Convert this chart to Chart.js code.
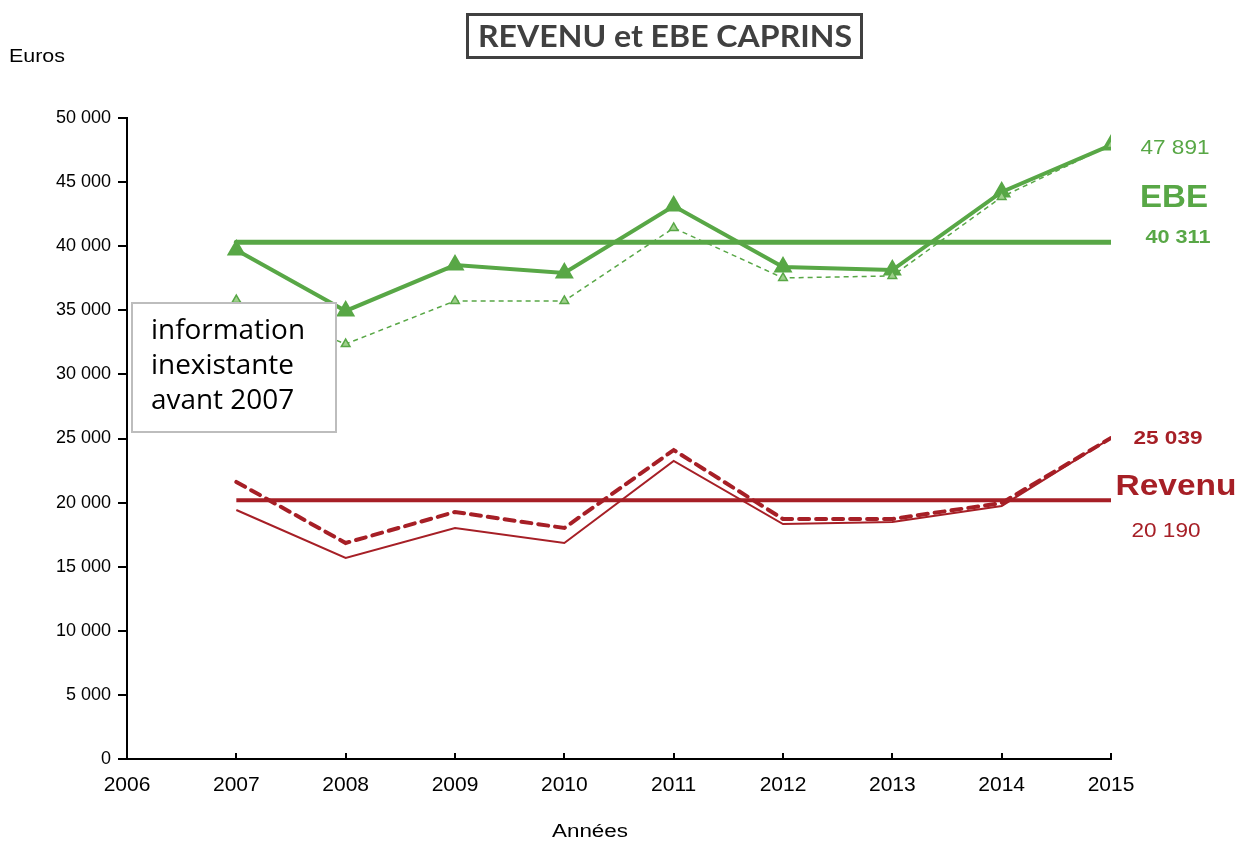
<!DOCTYPE html>
<html><head><meta charset="utf-8">
<script src="https://cdn.jsdelivr.net/npm/chart.js@4.4.1/dist/chart.umd.min.js"></script>
<style>html,body{margin:0;padding:0;background:#fff;}#wrap{width:1241px;height:844px;position:relative;}</style>
</head><body><div id="wrap"><canvas id="c" width="1241" height="844"></canvas></div>
<script>
const annees = [2007, 2008, 2009, 2010, 2011, 2012, 2013, 2014, 2015];
const ebe = [39700, 34950, 38530, 37910, 43140, 38380, 38140, 44230, 47891];
const ebeConstant = [35800, 32370, 35730, 35730, 41420, 37520, 37680, 43840, 47891];
const revenu = [19420, 15680, 18020, 16850, 23250, 18330, 18490, 19740, 25039];
const revenuConstant = [21610, 16850, 19270, 18020, 24100, 18720, 18720, 19970, 25039];
const ebeMoyenne = 40311;
const revenuMoyenne = 20190;
const xTicks = [2006, 2007, 2008, 2009, 2010, 2011, 2012, 2013, 2014, 2015];
const titre = "REVENU et EBE CAPRINS";
const noteLignes = ["information", "inexistante", "avant 2007"];

const GREEN = '#58a746';
const RED = '#a61f26';
const pts = (vals) => annees.map((a, i) => ({x: a, y: vals[i]}));
const flat = (v) => [{x: annees[0], y: v}, {x: annees[annees.length - 1], y: v}];
const fmt = (v) => String(Math.round(v)).replace(/\B(?=(\d{3})+(?!\d))/g, ' ');

// draw text horizontally scaled to a target width
function fitText(ctx, txt, x, y, font, color, width, align) {
  ctx.save();
  ctx.font = font; ctx.fillStyle = color; ctx.textBaseline = 'middle'; ctx.textAlign = 'left';
  const w = ctx.measureText(txt).width;
  const k = width / w;
  const left = align === 'left' ? x : x - width / 2;
  ctx.translate(left, y); ctx.scale(k, 1);
  ctx.fillText(txt, 0, 0);
  ctx.restore();
}

const overlay = {
  id: 'overlay',
  afterDraw(chart) {
    const ctx = chart.ctx, xs = chart.scales.x, ys = chart.scales.y, ca = chart.chartArea;
    ctx.save();
    // x tick marks (inside)
    ctx.strokeStyle = '#000'; ctx.lineWidth = 2;
    xTicks.forEach(t => {
      const px = Math.round(xs.getPixelForValue(t));
      ctx.beginPath(); ctx.moveTo(px, ca.bottom); ctx.lineTo(px, ca.bottom - 6); ctx.stroke();
    });
    // title box
    fitText(ctx, titre, 665, 37, 'bold 31px Lato', '#404040', 374);
    ctx.strokeStyle = '#404040'; ctx.lineWidth = 3;
    ctx.strokeRect(467.5, 14.5, 394, 43);
    // axis titles
    fitText(ctx, 'Euros', 9, 57, '18px "Liberation Sans"', '#000', 56, 'left');
    fitText(ctx, 'Années', 590, 832, '18px "Liberation Sans"', '#000', 76);
    // note box
    ctx.fillStyle = '#fff'; ctx.fillRect(132, 303, 204, 129);
    ctx.strokeStyle = '#bdbdbd'; ctx.lineWidth = 2; ctx.strokeRect(132, 303, 204, 129);
    const nf = '27px "Open Sans"';
    ctx.font = nf;
    const k = 154 / ctx.measureText(noteLignes[0]).width;
    noteLignes.forEach((l, i) => {
      ctx.font = nf;
      const w = ctx.measureText(l).width * k;
      fitText(ctx, l, 151, 331 + i * 35, nf, '#000', w, 'left');
    });
    // right labels
    const last = annees.length - 1;
    fitText(ctx, fmt(ebe[last]), 1175, ys.getPixelForValue(ebe[last]) + 3, '21px "Liberation Sans"', GREEN, 69);
    fitText(ctx, 'EBE', 1174, 198, 'bold 31px "Liberation Sans"', GREEN, 68);
    fitText(ctx, fmt(ebeMoyenne), 1178, ys.getPixelForValue(ebeMoyenne) - 4, 'bold 19px "Liberation Sans"', GREEN, 65);
    fitText(ctx, fmt(revenu[last]), 1168, ys.getPixelForValue(revenu[last]) + 1, 'bold 19px "Liberation Sans"', RED, 69);
    fitText(ctx, 'Revenu', 1176, 487, 'bold 30px "Liberation Sans"', RED, 121);
    fitText(ctx, fmt(revenuMoyenne), 1166, 531, '20px "Liberation Sans"', RED, 69);
    ctx.restore();
  }
};

new Chart(document.getElementById('c'), {
  type: 'line',
  data: {
    datasets: [
      {label: 'EBE moyenne', data: flat(ebeMoyenne), borderColor: GREEN, borderWidth: 5, pointRadius: 0, borderCapStyle: 'round'},
      {label: 'EBE constant', data: pts(ebeConstant), borderColor: GREEN, borderWidth: 1.5, borderDash: [5, 4],
       pointStyle: 'triangle', pointRadius: 5, pointBackgroundColor: '#9fd08c', pointBorderColor: GREEN, pointBorderWidth: 1.5},
      {label: 'EBE', data: pts(ebe), borderColor: GREEN, borderWidth: 4,
       pointStyle: 'triangle', pointRadius: 7, pointBackgroundColor: GREEN, pointBorderColor: GREEN},
      {label: 'Revenu moyenne', data: flat(revenuMoyenne), borderColor: RED, borderWidth: 4, pointRadius: 0},
      {label: 'Revenu', data: pts(revenu), borderColor: RED, borderWidth: 2, pointRadius: 0},
      {label: 'Revenu constant', data: pts(revenuConstant), borderColor: RED, borderWidth: 4, borderDash: [10, 7], borderCapStyle: 'round', pointRadius: 0}
    ]
  },
  options: {
    responsive: false, animation: false,
    layout: {padding: {left: 0, top: 118, right: 130, bottom: 0}},
    plugins: {legend: {display: false}, tooltip: {enabled: false}},
    elements: {line: {tension: 0, fill: false}},
    scales: {
      x: {type: 'linear', min: 2006, max: 2015,
          afterFit: s => { s.height = 85; },
          afterBuildTicks: s => { s.ticks = xTicks.map(v => ({value: v})); },
          grid: {display: false},
          border: {display: true, color: '#000', width: 2},
          ticks: {color: '#000', font: {family: 'Liberation Sans', size: 21}, padding: 6, maxRotation: 0,
                  callback: v => String(v)}},
      y: {min: 0, max: 50000,
          afterFit: s => { s.width = 127; },
          grid: {drawOnChartArea: false, drawTicks: true, tickLength: 9, color: '#000', lineWidth: 2},
          border: {display: true, color: '#000', width: 2},
          ticks: {stepSize: 5000, color: '#000', font: {family: 'Liberation Sans', size: 18}, padding: 7,
                  callback: v => fmt(v)}}
    }
  },
  plugins: [overlay]
});
</script></body></html>
